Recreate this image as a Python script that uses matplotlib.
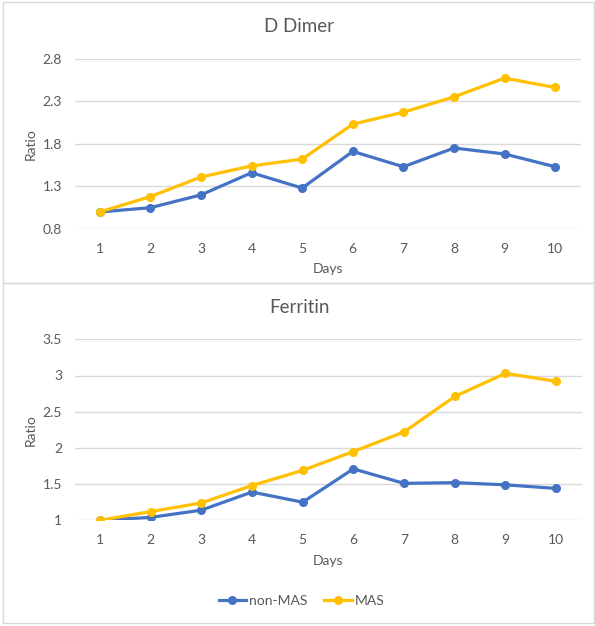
import matplotlib.pyplot as plt
from matplotlib.patches import Rectangle

days = [1, 2, 3, 4, 5, 6, 7, 8, 9, 10]

ddimer_non_mas = [1.00, 1.05, 1.20, 1.46, 1.28, 1.71, 1.53, 1.75, 1.68, 1.53]
ddimer_mas = [1.00, 1.18, 1.41, 1.54, 1.62, 2.03, 2.17, 2.35, 2.57, 2.46]

ferritin_non_mas = [1.00, 1.04, 1.14, 1.39, 1.25, 1.71, 1.51, 1.52, 1.49, 1.44]
ferritin_mas = [1.00, 1.12, 1.24, 1.48, 1.69, 1.95, 2.22, 2.71, 3.03, 2.92]

ddimer_ticks = [0.8, 1.3, 1.8, 2.3, 2.8]
ferritin_ticks = [1, 1.5, 2, 2.5, 3, 3.5]
ferritin_labels = ["1", "1.5", "2", "2.5", "3", "3.5"]

BLUE = "#4472C4"
GOLD = "#FFC000"
TEXT = "#595959"
GRID = "#D9D9D9"

plt.rcParams["font.family"] = ["Lato", "DejaVu Sans"]

W, H = 595, 626
fig = plt.figure(figsize=(W / 100, H / 100), dpi=100)


def px_axes(left, top, right, bottom):
    return fig.add_axes([left / W, 1 - bottom / H, (right - left) / W, (bottom - top) / H])


def draw_panel(ax, title, non_mas, mas, ticks, labels, title_y):
    ax.plot(days, non_mas, color=BLUE, lw=2.3, marker="o", ms=5.5, label="non-MAS", zorder=3)
    ax.plot(days, mas, color=GOLD, lw=2.3, marker="o", ms=5.5, label="MAS", zorder=3)
    ax.set_xlim(0.5, 10.5)
    ax.set_ylim(ticks[0], ticks[-1])
    ax.set_xticks(days)
    ax.set_xticklabels([str(d) for d in days])
    ax.set_yticks(ticks)
    ax.set_yticklabels(labels)
    ax.grid(axis="y", color=GRID, lw=1)
    ax.set_axisbelow(True)
    for s in ax.spines.values():
        s.set_visible(False)
    ax.tick_params(length=0, colors=TEXT, labelsize=10)
    ax.tick_params(axis="x", pad=10)
    ax.tick_params(axis="y", pad=9)
    ax.set_xlabel("Days", color=TEXT, fontsize=10, labelpad=6)
    ax.set_ylabel("Ratio", color=TEXT, fontsize=10, labelpad=4)
    fig.text(299.5 / W, 1 - title_y / H, title, color=TEXT,
             fontsize=13.5, ha="center", va="center")


ax1 = px_axes(74.5, 58.5, 580.5, 229)
draw_panel(ax1, "D Dimer", ddimer_non_mas, ddimer_mas, ddimer_ticks,
           [f"{t:.1f}" for t in ddimer_ticks], 27)

ax2 = px_axes(74.5, 339.3, 581.5, 520.3)
draw_panel(ax2, "Ferritin", ferritin_non_mas, ferritin_mas, ferritin_ticks,
           ferritin_labels, 308)

# chart frames
for top, bottom in [(2, 283), (283, 623)]:
    fig.patches.append(Rectangle((2.5 / W, 1 - bottom / H), (W - 4) / W, (bottom - top) / H,
                                 transform=fig.transFigure, fill=False,
                                 edgecolor="#D9D9D9", lw=1))

handles, names = ax2.get_legend_handles_labels()
fig.legend(handles, names, loc="center", bbox_to_anchor=(301.5 / W, 1 - 601 / H), ncol=2,
           frameon=False, fontsize=10, labelcolor=TEXT, handlelength=2.0,
           handletextpad=0.2, columnspacing=1.2)

fig.savefig("out.png", dpi=100)
